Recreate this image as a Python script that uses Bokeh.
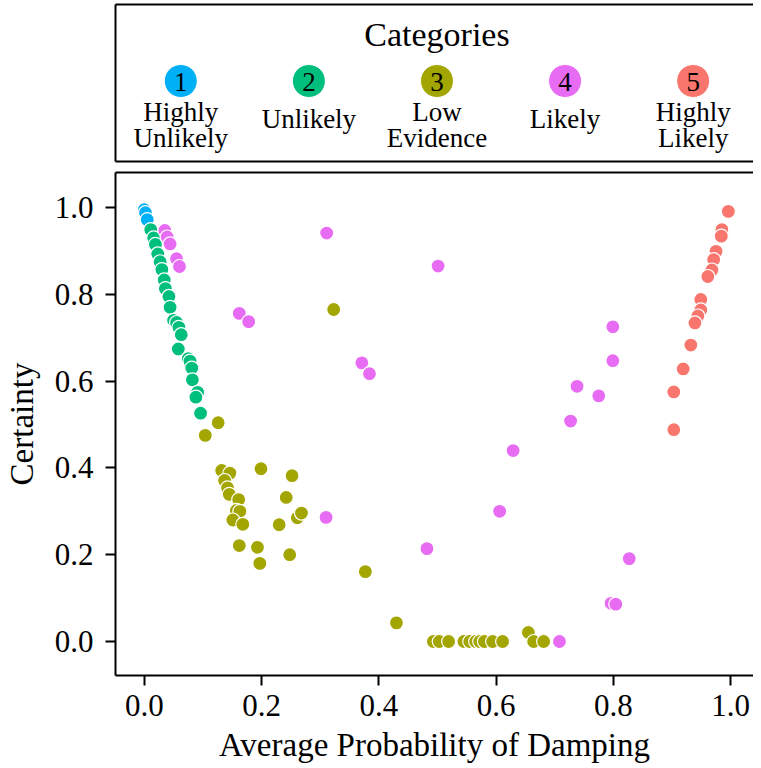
from bokeh.plotting import figure
from bokeh.models import Range1d, LinearAxis, FixedTicker, PrintfTickFormatter
from bokeh.layouts import column
from bokeh.core.properties import value
from bokeh.embed import file_html
from bokeh.resources import INLINE

FONT = "Liberation Serif"
AXIS_FONT = "'Liberation Serif'"

# ---------------- data ----------------
legend_title = "Categories"
category_numbers = ["1", "2", "3", "4", "5"]
label_line1 = ["Highly", "Unlikely", "Low", "Likely", "Highly"]
label_line2 = ["Unlikely", "", "Evidence", "", "Likely"]
colors = ["#00B0F6", "#00BF7D", "#A3A500", "#E76BF3", "#F8766D"]

x_ticks = [0.0, 0.2, 0.4, 0.6, 0.8, 1.0]
y_ticks = [0.0, 0.2, 0.4, 0.6, 0.8, 1.0]

cat1_x = [0.000, 0.002, 0.005]
cat1_y = [0.995, 0.988, 0.972]

cat2_x = [0.011, 0.016, 0.019, 0.023, 0.027, 0.030, 0.034, 0.036, 0.042, 0.044, 0.050,
          0.055, 0.059, 0.063, 0.058, 0.075, 0.078, 0.081, 0.082, 0.091, 0.088, 0.096]
cat2_y = [0.949, 0.930, 0.915, 0.893, 0.875, 0.857, 0.833, 0.813, 0.795, 0.770, 0.740,
          0.735, 0.724, 0.707, 0.674, 0.652, 0.646, 0.630, 0.603, 0.574, 0.563, 0.526]

cat3_x = [0.126, 0.104, 0.132, 0.146, 0.137, 0.142, 0.145, 0.161, 0.157, 0.163, 0.151,
          0.168, 0.162, 0.193, 0.197, 0.199, 0.252, 0.242, 0.230, 0.261, 0.268, 0.248,
          0.323, 0.377, 0.430, 0.493, 0.503, 0.519, 0.545, 0.555, 0.565, 0.572, 0.580,
          0.594, 0.611, 0.655, 0.664, 0.681]
cat3_y = [0.504, 0.475, 0.394, 0.388, 0.371, 0.354, 0.339, 0.327, 0.302, 0.300, 0.280,
          0.270, 0.221, 0.217, 0.180, 0.398, 0.382, 0.332, 0.269, 0.285, 0.296, 0.200,
          0.765, 0.161, 0.043, 0.000, 0.000, 0.000, 0.000, 0.000, 0.000, 0.000, 0.000,
          0.000, 0.000, 0.021, 0.000, 0.000]

cat4_x = [0.035, 0.039, 0.044, 0.055, 0.060, 0.162, 0.178, 0.311, 0.501, 0.371, 0.384,
          0.310, 0.482, 0.629, 0.606, 0.799, 0.799, 0.738, 0.775, 0.727, 0.827, 0.796,
          0.804, 0.708]
cat4_y = [0.947, 0.932, 0.916, 0.882, 0.864, 0.756, 0.737, 0.941, 0.865, 0.642, 0.617,
          0.286, 0.214, 0.440, 0.300, 0.725, 0.647, 0.588, 0.566, 0.508, 0.191, 0.088,
          0.086, 0.000]

cat5_x = [0.996, 0.985, 0.984, 0.975, 0.971, 0.968, 0.961, 0.949, 0.949, 0.944, 0.939,
          0.932, 0.919, 0.903, 0.903]
cat5_y = [0.991, 0.949, 0.934, 0.899, 0.880, 0.856, 0.841, 0.788, 0.764, 0.750, 0.734,
          0.683, 0.628, 0.575, 0.488]

series_x = [cat1_x, cat2_x, cat3_x, cat4_x, cat5_x]
series_y = [cat1_y, cat2_y, cat3_y, cat4_y, cat5_y]

W = 753


def border_axis():
    return LinearAxis(ticker=FixedTicker(ticks=[]), axis_line_width=2, axis_line_color="black",
                      major_tick_out=0, major_tick_in=0, minor_tick_out=0, minor_tick_in=0,
                      major_label_standoff=0, major_label_text_font_size="0px")


# ---------------- legend panel ----------------
leg = figure(width=W, height=165, output_backend="svg", toolbar_location=None,
             x_range=Range1d(116, 761), y_range=Range1d(161, 4),
             x_axis_location=None, y_axis_location=None,
             min_border_left=108, min_border_right=0, min_border_top=4, min_border_bottom=4)
leg.outline_line_color = None
leg.grid.visible = False
leg.background_fill_color = "white"
leg.add_layout(border_axis(), "left")
leg.add_layout(border_axis(), "above")
leg.add_layout(border_axis(), "below")

center = 441.0
spacing = 129.5
lx = [center + (i - 2) * spacing for i in range(len(category_numbers))]

leg.text(x=[center], y=[34], text=[legend_title], text_font=value(FONT),
         text_font_size="34px", text_align="center", text_baseline="middle", text_color="black")
leg.scatter(x=lx, y=[80.5] * 5, size=33, color=colors, line_color="white", line_width=1)
leg.text(x=lx, y=[81] * 5, text=category_numbers, text_font=value(FONT),
         text_font_size="27px", text_align="center", text_baseline="middle", text_color="black")

one_x, one_t, two_x, two_a, two_b = [], [], [], [], []
for x, a, b in zip(lx, label_line1, label_line2):
    if b:
        two_x.append(x); two_a.append(a); two_b.append(b)
    else:
        one_x.append(x); one_t.append(a)
leg.text(x=two_x, y=[111.5] * len(two_x), text=two_a, text_font=value(FONT),
         text_font_size="27px", text_align="center", text_baseline="middle", text_color="black")
leg.text(x=two_x, y=[137.5] * len(two_x), text=two_b, text_font=value(FONT),
         text_font_size="27px", text_align="center", text_baseline="middle", text_color="black")
leg.text(x=one_x, y=[118.5] * len(one_x), text=one_t, text_font=value(FONT),
         text_font_size="27px", text_align="center", text_baseline="middle", text_color="black")

# ---------------- scatter panel ----------------
p = figure(width=W, height=603, output_backend="svg", toolbar_location=None,
           x_range=Range1d(-0.0491, 1.0389), y_range=Range1d(-0.0783, 1.0806),
           min_border_left=110, min_border_right=0, min_border_top=7, min_border_bottom=93,
           x_axis_label="Average Probability of Damping", y_axis_label="Certainty")
p.outline_line_color = None
p.grid.visible = False

xa = p.below[0]
ya = p.left[0]
for ax in (xa, ya):
    ax.axis_line_width = 2
    ax.major_tick_line_width = 2
    ax.major_tick_out = 10
    ax.major_tick_in = 0
    ax.minor_tick_out = 0
    ax.minor_tick_in = 0
    ax.formatter = PrintfTickFormatter(format="%.1f")
    ax.major_label_text_font = AXIS_FONT
    ax.major_label_text_font_size = "31px"
    ax.major_label_text_color = "black"
    ax.axis_label_text_font = AXIS_FONT
    ax.axis_label_text_font_size = "33px"
    ax.axis_label_text_font_style = "normal"
    ax.axis_label_text_color = "black"
    ax.axis_label_standoff = 0
xa.ticker = FixedTicker(ticks=x_ticks)
ya.ticker = FixedTicker(ticks=y_ticks)
xa.major_label_standoff = 9
xa.axis_label_standoff = 8
ya.major_label_standoff = 12
ya.axis_label_standoff = 12

p.add_layout(border_axis(), "above")

for xs, ys, c in zip(series_x, series_y, colors):
    p.scatter(x=xs, y=ys, size=14, fill_color=c, line_color="white", line_width=1.2)

layout = column(leg, p, spacing=0)
open("out.html", "w").write(file_html(layout, INLINE))
